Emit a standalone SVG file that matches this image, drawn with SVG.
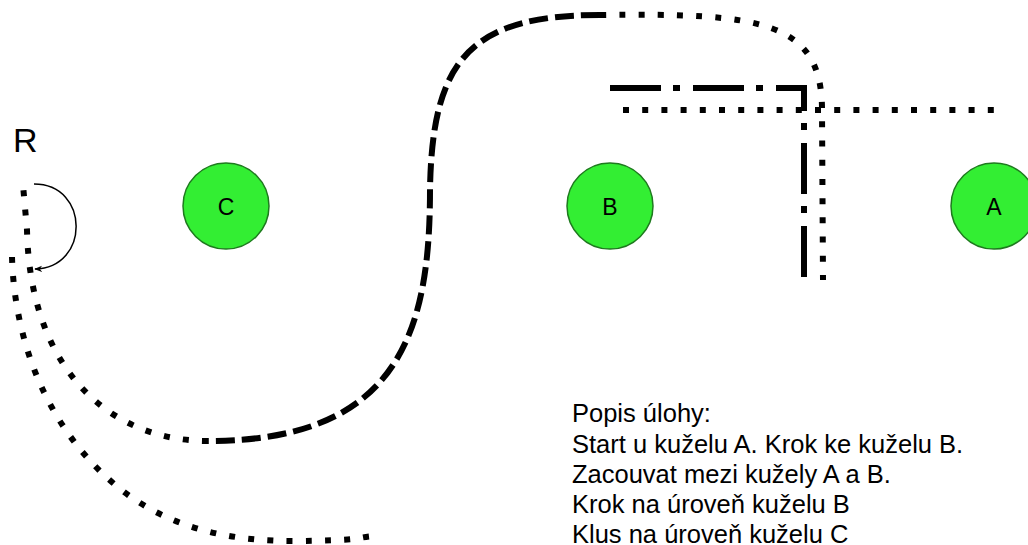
<svg xmlns="http://www.w3.org/2000/svg" width="1028" height="545" viewBox="0 0 1028 545">
<defs>
<style>
.node circle{fill:#33EE33;stroke:#1E7A1E;stroke-width:1.5}
.lbl{font-family:"Liberation Sans",Arial,sans-serif;font-size:23px;fill:#000;text-anchor:middle}
.txt{font-family:"Liberation Sans",Arial,sans-serif;font-size:25.5px;fill:#000}
.dot{fill:none;stroke:#000;stroke-width:6;stroke-dasharray:6 13.2}
.dash{fill:none;stroke:#000;stroke-width:6;stroke-dasharray:19 7}
.dashdot{fill:none;stroke:#000;stroke-width:6;stroke-dasharray:51 12 7 13;stroke-linejoin:miter}
.thin{fill:none;stroke:#000;stroke-width:1.5}
</style>
<marker id="ah" viewBox="0 0 10 10" refX="9" refY="5" markerWidth="8" markerHeight="8" markerUnits="userSpaceOnUse" orient="auto">
<path d="M0,1 L10,5 L0,9 L3,5 z" fill="#000"/>
</marker>
</defs>
<rect width="1028" height="545" fill="#fff"/>
<g id="connectors">
<path class="dot" d="M600,15 C760,13 822,20 822,110 L823,280"/>
<path class="dash" d="M600,15 C470,15 432,60 430,190 C430,330 400,441 208,441"/>
<path class="dot" d="M208,441 C110,441 30,370 27,230 L23,185"/>
<path class="dot" d="M12,257 C14,330 40,420 113,483 C165,528 230,542 300,541 S350,538 375,536"/>
<path class="dashdot" d="M610,88 L804,88 L804,278"/>
<path class="dot" d="M623,110 L994,110"/>
<path class="thin" d="M34,184 C90,184 90,268 35,269" marker-end="url(#ah)"/>
</g>
<g id="node-C" class="node"><circle cx="226" cy="206" r="43"/><text class="lbl" x="226" y="215">C</text></g>
<g id="node-B" class="node"><circle cx="610" cy="206" r="43"/><text class="lbl" x="610" y="215">B</text></g>
<g id="node-A" class="node"><circle cx="994" cy="206" r="43"/><text class="lbl" x="994" y="215">A</text></g>
<g id="label-R"><text class="txt" x="13" y="152" style="font-size:34px">R</text></g>
<g id="description">
<text class="txt" x="572">
<tspan x="572" y="422">Popis úlohy:</tspan>
<tspan x="572" y="452.5">Start u kuželu A. Krok ke kuželu B.</tspan>
<tspan x="572" y="483">Zacouvat mezi kužely A a B.</tspan>
<tspan x="572" y="513">Krok na úroveň kuželu B</tspan>
<tspan x="572" y="543">Klus na úroveň kuželu C</tspan>
</text>
</g>
</svg>
